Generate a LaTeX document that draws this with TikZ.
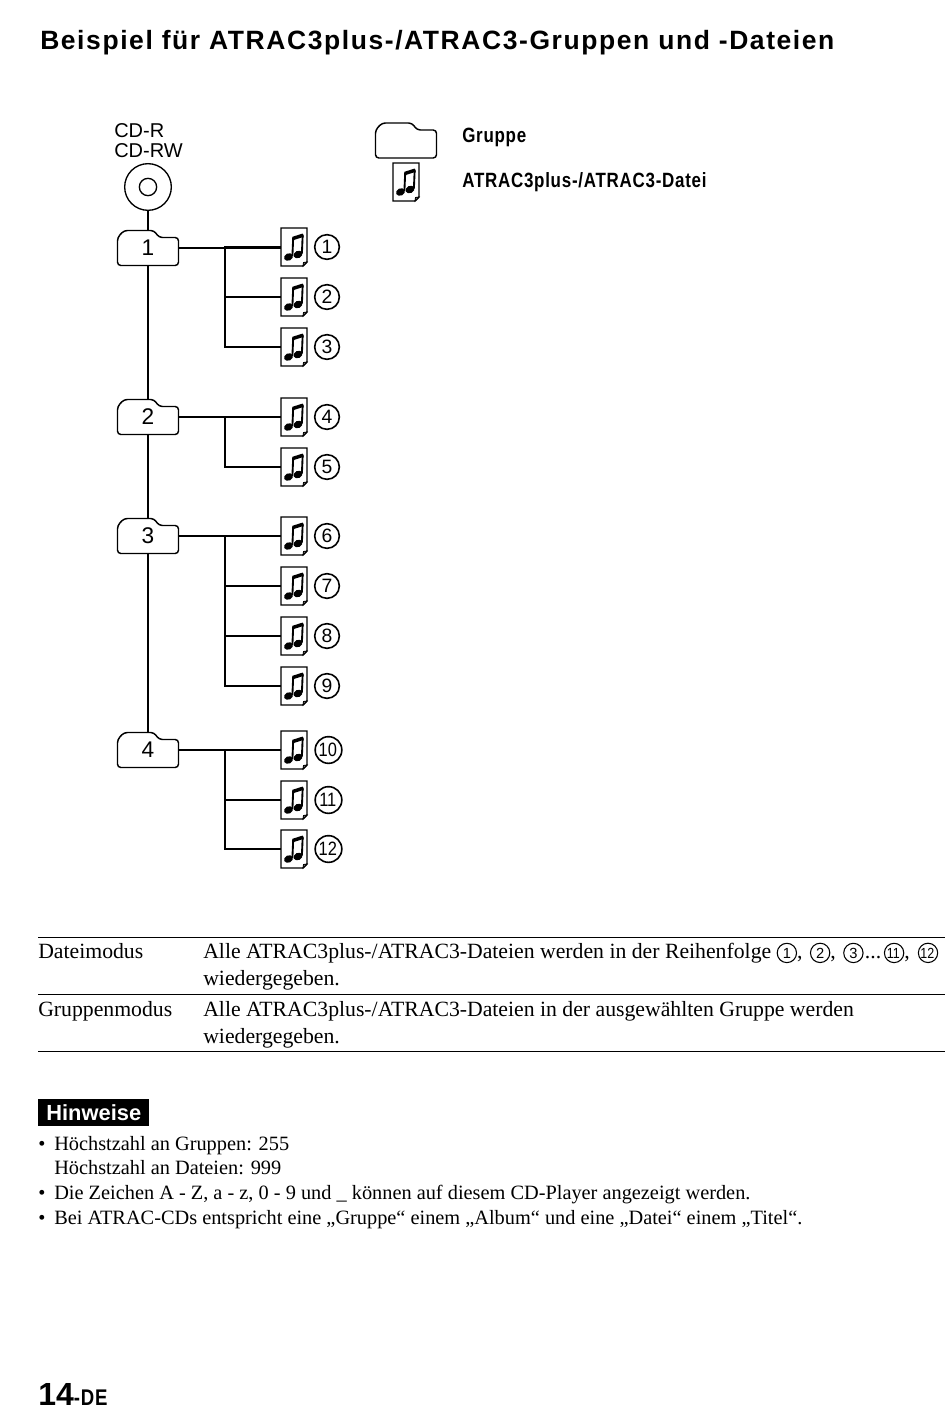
\documentclass[tikz,border=0pt]{standalone}
\usepackage{fontspec}
\setmainfont{Liberation Serif}
\setsansfont{Liberation Sans}
\newfontfamily\titlefont[LetterSpace=6]{Liberation Sans Bold}
\newfontfamily\keyfont[FakeStretch=0.82,LetterSpace=3.6]{Liberation Sans Bold}
\newcommand{\incirc}[1]{\tikz[baseline=(c.base)] \node[circle,draw,line width=0.8pt,minimum size=14.5pt,inner sep=0pt,font=\sffamily\fontsize{11}{12}\selectfont] (c) {#1};}
\newcommand{\tight}[1]{\hspace{-1pt}\scalebox{0.85}[1]{#1}\hspace{-1pt}}
\tikzset{
	folderbox/.style={minimum width=45.75pt,minimum height=26.25pt,inner sep=0pt,font=\sffamily\fontsize{17}{20}\selectfont},
	filebox/.style={minimum width=19.5pt,minimum height=28.5pt,inner sep=0pt},
	numcirc/.style={circle,draw,line width=1.2pt,minimum size=18.5pt,inner sep=0pt,font=\sffamily\fontsize{14.5}{15}\selectfont},
	numcircwide/.style={numcirc,minimum size=20pt},
	bodytext/.style={anchor=base west,inner sep=0pt,font=\fontsize{16.3}{18}\selectfont},
	notetext/.style={anchor=base west,inner sep=0pt,font=\fontsize{15.25}{18}\selectfont},
	keytext/.style={anchor=base west,inner sep=0pt,font=\keyfont\fontsize{15.5}{17}\selectfont},
	branch/.style={line width=1.6pt},
	folderpic/.pic={
		\draw[line width=1.1pt,rounded corners=2.5pt,fill=white] (-30.5,17.5) -- (-30.5,-10.5) -- (-24,-17.5) -- (6,-17.5) -- (11,-10.5) -- (30.5,-10.5) -- (30.5,17.5) -- cycle;
	},
	filepic/.pic={
		\draw[line width=1.1pt] (-13,-19) -- (13,-19) -- (13,15) -- (9,19) -- (-13,19) -- cycle;
		\draw[line width=0.6pt,fill=gray] (9,19) -- (9.5,15.5) -- (13,15) -- cycle;
		%The two notes
		\fill[rotate around={25:(-5.5,10)}] (-5.5,10) ellipse (4.7 and 3.6);
		\fill[rotate around={25:(4,7.5)}] (4,7.5) ellipse (4.7 and 3.6);
		\draw[line width=1.4pt] (-1.6,9) -- (-0.8,-9.5);
		\draw[line width=1.4pt] (7.9,6.5) -- (8.7,-12.5);
		\draw[line width=2.6pt] (-1.2,-8.5) -- (9.2,-11.8);
	}
}
\begin{document}
\begin{tikzpicture}[x=0.75pt,y=-0.75pt]
	\useasboundingbox (0,0) rectangle (950,1408);
	%Title
	\node [anchor=base west,inner sep=0pt,font=\titlefont\fontsize{19.85}{23}\selectfont] (title) at (40,50) {Beispiel für ATRAC3plus-/ATRAC3-Gruppen und -Dateien};
	%The disc
	\node [anchor=base west,inner sep=0pt,font=\sffamily\fontsize{15}{18}\selectfont] (cdr) at (114,138) {CD-R};
	\node [anchor=base west,inner sep=0pt,font=\sffamily\fontsize{15}{18}\selectfont] (cdrw) at (114,158) {CD-RW};
	\node [circle,draw,line width=1pt,minimum size=35pt,inner sep=0pt,fill=white] (disc) at (148,187) {};
	\node [circle,draw,line width=1pt,minimum size=13pt,inner sep=0pt] (hole) at (disc) {};
	%Folders
	\foreach \i/\y in {1/248,2/417,3/536,4/750} {
		\node [folderbox] (f\i) at (148,\y) {};
		\coordinate (branch\i) at (225,\y);
	}
	\draw [line width=1pt] (disc) -- (f1);
	\draw [line width=1pt] (f1) -- (f2);
	\draw [line width=1pt] (f2) -- (f3);
	\draw [line width=1pt] (f3) -- (f4);
	\foreach \i/\y in {1/248,2/417,3/536,4/750} {
		\pic at (f\i) {folderpic};
		\node [folderbox] (label\i) at (f\i) {\i};
	}
	%Files, with the number of their folder
	\foreach \n/\y/\f in {1/247/1,2/297/1,3/347/1,4/417/2,5/467/2,6/536/3,7/586/3,8/636/3,9/686/3,10/750/4,11/800/4,12/849/4} {
		\node [filebox] (file\n) at (294,\y) {};
		\pic at (file\n) {filepic};
		\draw [branch] (branch\f) |- (file\n.west);
	}
	\foreach \f/\n in {1/1,2/4,3/6,4/10} {
		\draw [branch] (f\f.east) -- (file\n.west |- f\f.east);
	}
	%Numbers beside the files
	\foreach \n/\y in {1/247,2/297,3/347,4/417,5/467,6/536,7/586,8/636,9/686} {
		\node [numcirc] (num\n) at (327,\y) {\n};
	}
	\foreach \n/\y in {10/750,11/800,12/849} {
		\node [numcircwide] (num\n) at (328.5,\y) {\tight{\n}};
	}
	%Key
	\node [folderbox] (keyfolder) at (406,140.5) {};
	\pic at (keyfolder) {folderpic};
	\node [filebox] (keyfile) at (406,182) {};
	\pic at (keyfile) {filepic};
	\node [keytext] (keygroup) at (462,143) {Gruppe};
	\node [keytext] (keyname) at (462,188) {ATRAC3plus-/ATRAC3-Datei};
	%Table
	\foreach \i/\y in {0/937,1/994,2/1051} {
		\coordinate (ruleL\i) at (38,\y);
		\coordinate (ruleR\i) at (945,\y);
		\draw [line width=0.7pt] (ruleL\i) -- (ruleR\i);
	}
	\node [bodytext] (mode1) at (38,958) {Dateimodus};
	\node [bodytext] (text1) at (203,958) {Alle ATRAC3plus-/ATRAC3-Dateien werden in der Reihenfolge \incirc{1}, \hspace{1.5pt}\incirc{2}, \hspace{1.5pt}\incirc{3}\hspace{1pt}...\hspace{2pt}\incirc{\tight{11}}, \hspace{2pt}\incirc{\tight{12}}};
	\node [bodytext] (text1b) at (203,985) {wiedergegeben.};
	\node [bodytext] (mode2) at (38,1016) {Gruppenmodus};
	\node [bodytext] (text2) at (203,1016) {Alle ATRAC3plus-/ATRAC3-Dateien in der ausgewählten Gruppe werden};
	\node [bodytext] (text2b) at (203,1043) {wiedergegeben.};
	%Notes
	\node [fill=black,text=white,anchor=north west,inner sep=0pt,minimum width=83.25pt,minimum height=20.25pt,font=\sffamily\bfseries\fontsize{16.4}{18}\selectfont] (notes) at (38,1099) {Hinweise};
	\node [notetext] (bullet1) at (38,1150) {•};
	\node [notetext] (note1) at (54,1150) {Höchstzahl an Gruppen: 255};
	\node [notetext] (note1b) at (54,1174) {Höchstzahl an Dateien: 999};
	\node [notetext] (bullet2) at (38,1199) {•};
	\node [notetext] (note2) at (54,1199) {Die Zeichen A - Z, a - z, 0 - 9 und \_ können auf diesem CD-Player angezeigt werden.};
	\node [notetext] (bullet3) at (38,1224) {•};
	\node [notetext] (note3) at (54,1224) {Bei ATRAC-CDs entspricht eine „Gruppe“ einem „Album“ und eine „Datei“ einem „Titel“.};
	%Page number
	\node [anchor=base west,inner sep=0pt,font=\sffamily\bfseries\fontsize{24}{28}\selectfont] (page) at (38,1405) {14{\keyfont\fontsize{17}{18}\selectfont -DE}};
\end{tikzpicture}
\end{document}
